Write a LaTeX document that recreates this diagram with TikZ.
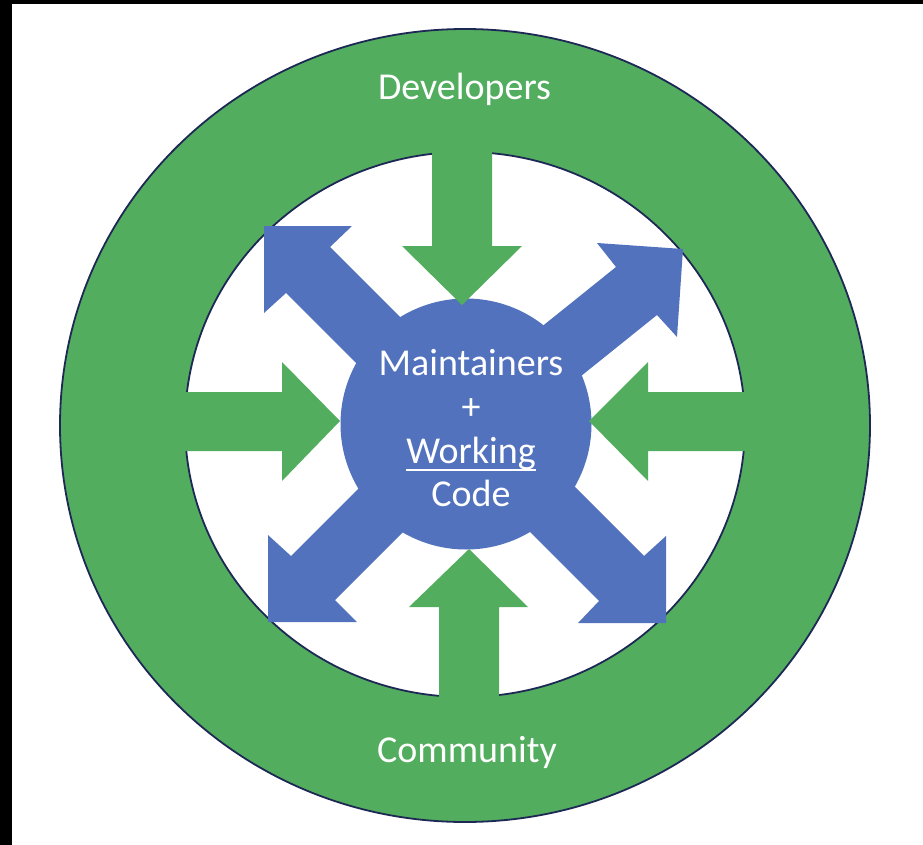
\documentclass[tikz,border=0pt]{standalone}
\usepackage{fontspec}
\setmainfont{Carlito}
\usetikzlibrary{shapes.geometric}
\definecolor{ringgreen}{RGB}{82,173,94}
\definecolor{coreblue}{RGB}{82,114,190}
\definecolor{edgenavy}{RGB}{30,40,85}
\newcommand\myunderline[1]{\setbox0=\hbox{#1}\rlap{\raisebox{-8.2pt}{\rule{\wd0}{2.4pt}}}\box0}
\begin{document}
\begin{tikzpicture}[x=1pt,y=-1pt,
  every node/.style={inner sep=0pt,outer sep=0pt},
  lbl/.style={text=white,font=\fontsize{38}{44}\selectfont,anchor=base},
  garrow/.style={fill=ringgreen},
  barrow/.style={fill=coreblue},
  ringstyle/.style={ellipse,draw=edgenavy,line width=1.8pt}]
\useasboundingbox (0,0) rectangle (923,845);
\fill[white] (0,0) rectangle (923,845);
\fill[black] (0,0) rectangle (923,4);
\fill[black] (0,0) rectangle (12,845);
% outer ring and inner hole
\node (ring) [ringstyle,fill=ringgreen,minimum width=810pt,minimum height=793pt] at (465,425.5) {};
\node (hole) [ringstyle,fill=white,minimum width=560pt,minimum height=545pt] at (465,424.5) {};
% blue outgoing arrows
\fill[barrow] (264,226) -- (352,226) -- (330,247) -- (420,337) -- (376,383) -- (286,293) -- (264,313) -- cycle;
\fill[barrow] (683,249) -- (677,337) -- (657,315) -- (540,409) -- (499,361) -- (616,267) -- (597,243) -- cycle;
\fill[barrow] (268,622) -- (268,535) -- (291,556) -- (391,456) -- (435,500) -- (335,600) -- (357,622) -- cycle;
\fill[barrow] (666,623) -- (578,623) -- (599,601) -- (499,501) -- (544,456) -- (644,556) -- (666,536) -- cycle;
% core circle
\node (core) [circle,fill=coreblue,minimum size=251pt] at (466,424) {};
% green incoming arrows
\fill[garrow] (432,140) -- (492,140) -- (492,246) -- (522,246) -- (462,305) -- (402,246) -- (432,246) -- cycle;
\fill[garrow] (439,710) -- (499,710) -- (499,607) -- (528,607) -- (469,549) -- (409,607) -- (439,607) -- cycle;
\fill[garrow] (170,392) -- (282,392) -- (282,362) -- (340,421) -- (282,481) -- (282,451) -- (170,451) -- cycle;
\fill[garrow] (760,392) -- (648,392) -- (648,362) -- (589,421) -- (648,481) -- (648,451) -- (760,451) -- cycle;
% labels
\node (dev) [lbl] at (464.5,100) {Developers};
\node (com) [lbl] at (467,762) {Community};
\node (m1) [lbl] at (471,375) {Maintainers};
\node (m2) [lbl] at (471,419) {+};
\node (m3) [lbl] at (471,463) {\myunderline{Working}};
\node (m4) [lbl] at (471,506) {Code};
\end{tikzpicture}
\end{document}
